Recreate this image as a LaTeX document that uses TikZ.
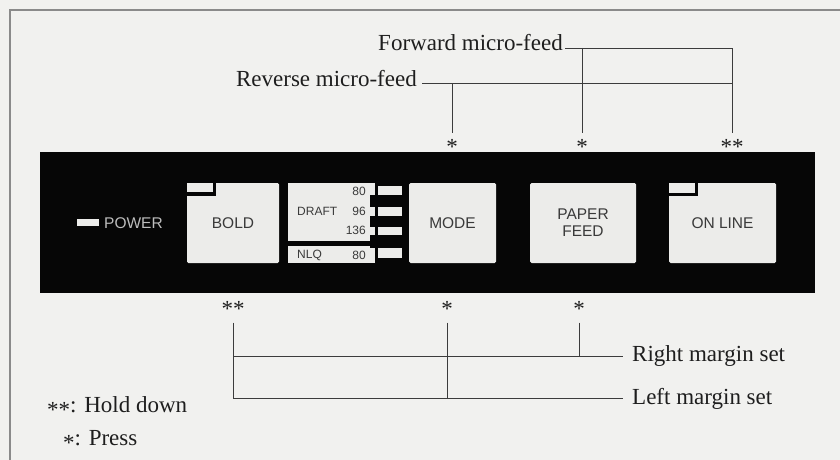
\documentclass[tikz,border=0pt]{standalone}
\usepackage{fontspec}
\setmainfont{Liberation Serif}
\newfontfamily\panelfont{Liberation Sans}
\definecolor{pagebg}{HTML}{F1F1EF}
\definecolor{btn}{HTML}{ECECEA}
\definecolor{ink}{HTML}{1E1E1E}
\definecolor{btnink}{HTML}{3A3A3A}
\definecolor{lineink}{HTML}{3C3C3C}
\definecolor{framecol}{HTML}{8A8A8A}
\definecolor{panelblack}{HTML}{060606}
\definecolor{powerink}{HTML}{BDBDBD}
\newcommand\lowstar{\raisebox{-0.22em}{*}}
\begin{document}
\begin{tikzpicture}[x=1pt,y=-1pt,
  lbl/.style={font=\fontsize{23}{27}\selectfont, text=ink, inner sep=0pt},
  starmark/.style={font=\fontsize{23}{27}\selectfont, text=ink, inner sep=0pt},
  conn/.style={draw=lineink, line width=0.9pt},
  key/.style={fill=btn, rounded corners=1.5pt, inner sep=0pt},
  keytext/.style={font=\panelfont\fontsize{15.5}{17}\selectfont, text=btnink, align=center},
  tinytext/.style={font=\panelfont\fontsize{12}{14}\selectfont, text=btnink, inner sep=0pt},
  led/.style={fill=btn}
]
\fill[pagebg] (0,0) rectangle (840,460);
\useasboundingbox (0,0) rectangle (840,460);
% frame
\draw[framecol, line width=1.2pt] (10,460) -- (10,10) -- (840,10);
% panel
\fill[panelblack] (40,152) rectangle (815,293);
% power
\fill[led] (77,219) rectangle (99,226);
\node[font=\panelfont\fontsize{15.5}{17}\selectfont, text=powerink, anchor=west, inner sep=0pt] (power) at (104,223) {POWER};
% BOLD
\node[key, minimum width=92pt, minimum height=80pt] (bold) at (233,223) {};
\node[keytext] at (bold.center) {BOLD};
\fill[panelblack] (187,183) rectangle (216,196);
\fill[led] (187,183) rectangle (213,192);
% draft / nlq panel
\fill[btn] (288,183) rectangle (375,241);
\fill[btn] (288,246) rectangle (375,263);
\fill[panelblack] (370,195) rectangle (378,207);
\fill[panelblack] (370,216) rectangle (378,227);
\fill[panelblack] (370,235) rectangle (378,248);
\fill[led] (378,186) rectangle (402,195);
\fill[led] (378,207) rectangle (402,216);
\fill[led] (378,227) rectangle (402,235);
\fill[led] (378,248) rectangle (402,258);
\node[tinytext, anchor=east] (d80) at (366,191) {80};
\node[tinytext, anchor=west] (draft) at (297,211) {DRAFT};
\node[tinytext, anchor=east] (d96) at (366,211) {96};
\node[tinytext, anchor=east] (d136) at (366,230) {136};
\node[tinytext, anchor=west] (nlq) at (297,255) {NLQ};
\node[tinytext, anchor=east] (n80) at (366,255) {80};
% MODE
\node[key, minimum width=87pt, minimum height=80pt] (mode) at (452.5,223) {};
\node[keytext] at (mode.center) {MODE};
% PAPER FEED
\node[key, minimum width=106pt, minimum height=80pt] (paper) at (583,223) {};
\node[keytext] at (paper.center) {PAPER\\FEED};
% ON LINE
\node[key, minimum width=107pt, minimum height=80pt] (online) at (722.5,223) {};
\node[keytext] at (online.center) {ON LINE};
\fill[panelblack] (669,183) rectangle (698,196);
\fill[led] (669,183) rectangle (695,193);

% top labels
\node[lbl, anchor=base east] (fwd) at (563,51) {Forward micro-feed};
\node[lbl, anchor=base east] (rev) at (417,86) {Reverse micro-feed};
\node[starmark] (s1) at (452,147) {*};
\node[starmark] (s2) at (582,147) {*};
\node[starmark] (s3) at (732,147) {**};
\coordinate (fM) at (582,48);
\coordinate (fR) at (732,48);
\coordinate (rL) at (452,83);
\coordinate (rR) at (732,83);
\draw[conn] ([xshift=2pt,yshift=3pt]fwd.base east) -- (fR) -- ([yshift=6pt]s3.north);
\draw[conn] (fM) -- ([yshift=6pt]s2.north);
\draw[conn] ([xshift=5pt,yshift=3pt]rev.base east) -- (rR);
\draw[conn] (rL) -- ([yshift=6pt]s1.north);

% bottom labels
\node[starmark] (b1) at (233,309) {**};
\node[starmark] (b2) at (447,309) {*};
\node[starmark] (b3) at (579,309) {*};
\node[lbl, anchor=base west] (rms) at (632,361) {Right margin set};
\node[lbl, anchor=base west] (lms) at (632,404) {Left margin set};
\coordinate (rmL) at (233,356);
\coordinate (lmL) at (233,398);
\coordinate (rmM) at (579,356);
\coordinate (lmM) at (447,398);
\draw[conn] ([yshift=-6pt]b1.south) -- (lmL) -- ([xshift=-9pt]lms.west |- lmL);
\draw[conn] (rmL) -- ([xshift=-9pt]rms.west |- rmL);
\draw[conn] ([yshift=-6pt]b2.south) -- (lmM);
\draw[conn] ([yshift=-6pt]b3.south) -- (rmM);

% legend
\node[lbl, anchor=base west] (hold) at (47,412) {\lowstar\lowstar: Hold down};
\node[lbl, anchor=base west] (press) at (63,445) {\lowstar: Press};
\end{tikzpicture}
\end{document}
